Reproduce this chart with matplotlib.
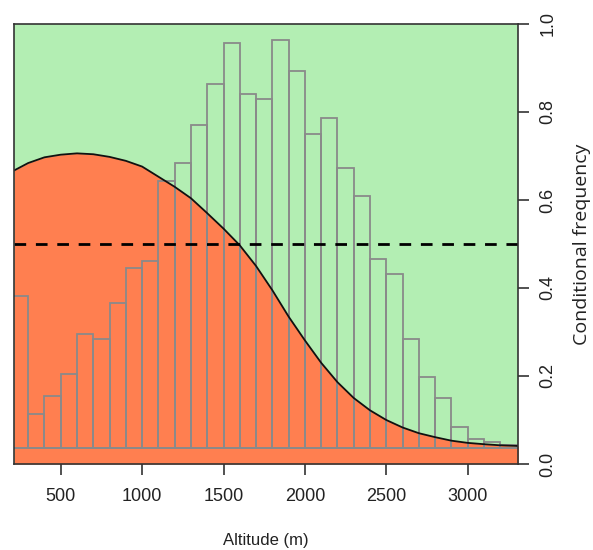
import matplotlib
matplotlib.use("Agg")
import matplotlib.pyplot as plt
import numpy as np

# ---- data ----
# histogram bins (altitude, m) and bar tops (in conditional-frequency units)
bin_edges = [200, 300, 400, 500, 600, 700, 800, 900, 1000, 1100, 1200, 1300,
             1400, 1500, 1600, 1700, 1800, 1900, 2000, 2100, 2200, 2300, 2400,
             2500, 2600, 2700, 2800, 2900, 3000, 3100, 3200, 3300]
bar_tops = [0.382, 0.113, 0.155, 0.204, 0.296, 0.283, 0.367, 0.446, 0.461,
            0.644, 0.685, 0.771, 0.863, 0.956, 0.842, 0.829, 0.964, 0.893,
            0.750, 0.786, 0.673, 0.608, 0.467, 0.431, 0.283, 0.198, 0.149,
            0.085, 0.057, 0.049, 0.043]
hist_base = 0.036

# conditional density curve (presence)
curve_x = [213, 300, 400, 500, 600, 700, 800, 900, 1000, 1100, 1200, 1300,
           1400, 1500, 1600, 1700, 1800, 1900, 2000, 2100, 2200, 2300, 2400,
           2500, 2600, 2700, 2800, 2900, 3000, 3100, 3200, 3311]
curve_y = [0.667, 0.684, 0.697, 0.703, 0.706, 0.704, 0.698, 0.689, 0.676,
           0.653, 0.630, 0.604, 0.570, 0.535, 0.497, 0.450, 0.395, 0.335,
           0.281, 0.230, 0.186, 0.150, 0.122, 0.100, 0.083, 0.070, 0.061,
           0.053, 0.048, 0.045, 0.0425, 0.041]

x_ticks = [500, 1000, 1500, 2000, 2500, 3000]
y_ticks = [0.0, 0.2, 0.4, 0.6, 0.8, 1.0]
threshold = 0.5

GREEN = "#B3EEB3"
ORANGE = "#FF7F50"
HIST_EDGE = "#8A8A8A"

W, H = 593, 550
fig = plt.figure(figsize=(W / 100, H / 100), dpi=100)
ax = fig.add_axes([14 / W, 1 - 464 / H, (518.3 - 14) / W, (464 - 24) / H])
ax.set_facecolor(GREEN)

ax.set_xlim(213, 3311)
ax.set_ylim(0, 1)

# orange area under the curve
ax.fill_between(curve_x, 0, curve_y, color=ORANGE, lw=0, zorder=1)

# histogram outlines
lefts = bin_edges[:-1]
widths = np.diff(bin_edges)
heights = [t - hist_base for t in bar_tops]
ax.bar(lefts, heights, width=widths, bottom=hist_base, align="edge",
       facecolor="none", edgecolor=HIST_EDGE, linewidth=1.3, zorder=2)
ax.axhline(hist_base, color=HIST_EDGE, lw=1.3, zorder=2)

# curve and threshold
ax.plot(curve_x, curve_y, color="#111111", lw=1.3, zorder=3)
ax.axhline(threshold, color="black", lw=2.0, linestyle=(0, (4.2, 3.5)), zorder=3)

for s in ax.spines.values():
    s.set_color("#333333")
    s.set_linewidth(1.2)
    s.set_zorder(5)

ax.set_xticks(x_ticks)
ax.set_xticklabels([str(v) for v in x_ticks], fontfamily="Liberation Sans",
                   fontsize=13, color="#222222")
ax.tick_params(axis="x", length=8, width=1.2, color="#333333", pad=9)

ax.yaxis.tick_right()
ax.set_yticks(y_ticks)
ax.set_yticklabels([f"{v:.1f}" for v in y_ticks], fontfamily="Liberation Sans",
                   fontsize=13, color="#222222", rotation=90, va="center")
ax.tick_params(axis="y", length=8, width=1.2, color="#333333", pad=7)

fig.text(266 / W, 1 - 540 / H, "Altitude (m)", fontfamily="Liberation Sans",
         fontsize=12, color="#222222", ha="center", va="center")
fig.text(582 / W, 1 - 244 / H, "Conditional frequency", fontfamily="Open Sans",
         fontsize=14, color="#222222", ha="center", va="center", rotation=90)

fig.savefig("out.png", dpi=100, facecolor="white")
